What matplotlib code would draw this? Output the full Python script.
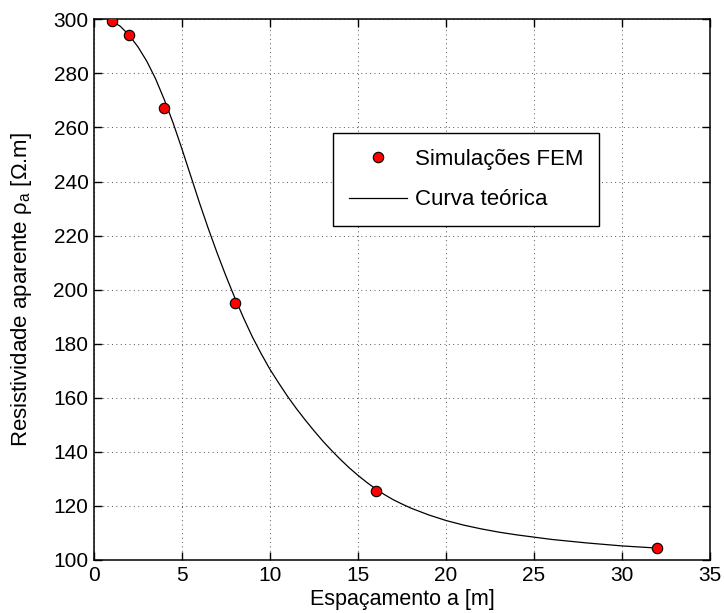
import matplotlib
matplotlib.use("Agg")
import matplotlib.pyplot as plt

plt.rcParams['font.family'] = ['Liberation Sans', 'DejaVu Sans']
plt.rcParams['mathtext.fontset'] = 'custom'
plt.rcParams['mathtext.rm'] = 'Liberation Sans'
plt.rcParams['mathtext.it'] = 'Liberation Sans'

# FEM simulation results
a_fem = [1, 2, 4, 8, 16, 32]
rho_fem = [299.4, 294.2, 267.3, 195.2, 125.4, 104.4]

# theoretical apparent resistivity curve
a_teo = [1.0, 1.5, 2.0, 2.5, 3.0, 3.5, 4.0, 4.5, 5.0, 5.5, 6.0, 6.5, 7.0, 7.5,
         8.0, 8.5, 9.0, 9.5, 10, 10.5, 11, 11.5, 12, 12.5, 13, 13.5, 14, 14.5,
         15, 15.5, 16, 16.5, 17, 17.5, 18, 19, 20, 21, 22, 23, 24, 26, 28,
         30, 32]
rho_teo = [299.4, 297.4, 294.1, 289.8, 284.5, 278.0, 270.2, 261.6, 252.0,
           242.0, 232.0, 222.5, 213.5, 205.0, 197.0, 189.5, 182.5, 176.3,
           170.5, 165.4, 160.5, 156.0, 151.8, 147.8, 144.0, 140.5, 137.2,
           134.1, 131.3, 128.7, 126.3, 124.2, 122.3, 120.7, 119.2, 116.7,
           114.6, 112.9, 111.5, 110.3, 109.3, 107.6, 106.3, 105.2, 104.4]

fig = plt.figure(figsize=(7.24, 6.13), dpi=100)
ax = fig.add_axes([0.1298, 0.0865, 0.8509, 0.882])

ax.plot(a_fem, rho_fem, 'o', color='red', markeredgecolor='black',
        markeredgewidth=0.8, markersize=7.5, label=u'Simulações FEM', zorder=3)
ax.plot(a_teo, rho_teo, '-', color='black', lw=0.9, label=u'Curva teórica')

ax.set_xlim(0, 35)
ax.set_ylim(100, 300)
ax.set_xticks(range(0, 36, 5))
ax.set_yticks(range(100, 301, 20))
ax.grid(True, linestyle=(0, (1, 3.5)), color='#555555', lw=0.7)
ax.tick_params(direction='in', top=True, right=True, length=6, width=1,
               labelsize=15, pad=4)
for s in ax.spines.values():
    s.set_linewidth(1.1)

ax.set_xlabel(u'Espaçamento a [m]', fontsize=15.5, labelpad=3)
ax.set_ylabel(u'Resistividade aparente ρ$_{\\rm a}$ [Ω.m]', fontsize=16,
              labelpad=14)

leg = ax.legend(loc='upper left', bbox_to_anchor=(0.388, 0.79),
                borderaxespad=0, fontsize=16, fancybox=False, framealpha=1,
                edgecolor='black', handlelength=2.6, borderpad=0.72,
                labelspacing=0.88, handletextpad=0.35)
leg.get_frame().set_linewidth(1.0)

fig.savefig('out.png', dpi=100)
